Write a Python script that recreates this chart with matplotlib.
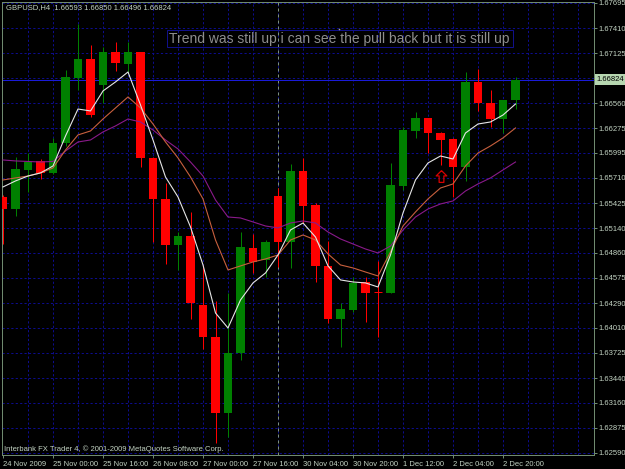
import matplotlib
matplotlib.use("Agg")
import matplotlib.pyplot as plt
from matplotlib.patches import Rectangle
from matplotlib.lines import Line2D
from matplotlib.path import Path
from matplotlib.transforms import blended_transform_factory

# ---------------- data ----------------
header_text = "GBPUSD,H4  1.66593 1.66850 1.66496 1.66824"
footer_text = "Interbank FX Trader 4, \u00a9 2001-2009 MetaQuotes Software Corp."
note_text = "Trend was still up i can see the pull back but it is still up"

opens = [1.65494, 1.65358, 1.65801, 1.65903, 1.65767, 1.66107, 1.66844, 1.67060,
         1.66765, 1.67139, 1.67003, 1.67139, 1.65937, 1.65472, 1.64950, 1.65052,
         1.64269, 1.63906, 1.63044, 1.63725, 1.64916, 1.64780, 1.65506, 1.64984,
         1.65789, 1.65404, 1.64712, 1.64110, 1.64212, 1.64530, 1.64417, 1.64405,
         1.65619, 1.66243, 1.66390, 1.66220, 1.66152, 1.65835, 1.66799, 1.66561,
         1.66379, 1.66593]
highs = [1.65517, 1.65948, 1.65993, 1.65925, 1.66164, 1.66935, 1.67457, 1.67219,
         1.67196, 1.67253, 1.67253, 1.67139, 1.65948, 1.65653, 1.65097, 1.65324,
         1.64723, 1.64315, 1.64405, 1.65097, 1.65075, 1.65006, 1.65596, 1.65869,
         1.65937, 1.65426, 1.64995, 1.64292, 1.64587, 1.64587, 1.64768, 1.65880,
         1.66288, 1.66459, 1.66390, 1.66232, 1.66164, 1.66912, 1.66946, 1.66708,
         1.66595, 1.66850]
lows = [1.64961, 1.65279, 1.65551, 1.65698, 1.65755, 1.66073, 1.66708, 1.66402,
        1.66561, 1.66924, 1.66912, 1.65835, 1.64984, 1.64734, 1.64666, 1.64110,
        1.63770, 1.62704, 1.62772, 1.63645, 1.64632, 1.64587, 1.64700, 1.64689,
        1.65199, 1.64530, 1.64065, 1.63793, 1.64190, 1.64076, 1.63906, 1.64405,
        1.65574, 1.66164, 1.65993, 1.65857, 1.65494, 1.65676, 1.66470, 1.66288,
        1.66220, 1.66496]
closes = [1.65358, 1.65812, 1.65891, 1.65767, 1.66107, 1.66856, 1.67060, 1.66424,
          1.67139, 1.67014, 1.67139, 1.65937, 1.65472, 1.64950, 1.65052, 1.64292,
          1.63906, 1.63044, 1.63725, 1.64927, 1.64757, 1.64984, 1.64984, 1.65789,
          1.65392, 1.64712, 1.64110, 1.64224, 1.64519, 1.64405, 1.64405, 1.65630,
          1.66254, 1.66390, 1.66220, 1.66141, 1.65835, 1.66799, 1.66561, 1.66379,
          1.66595, 1.66824]

ma_fast = [1.65608, 1.65676, 1.65732, 1.65767, 1.65846, 1.66186, 1.66492, 1.66470,
           1.66697, 1.66799, 1.66912, 1.66538, 1.66141, 1.65721, 1.65494, 1.65154,
           1.64723, 1.64178, 1.64008, 1.64326, 1.64519, 1.64632, 1.64836, 1.65120,
           1.65199, 1.65040, 1.64712, 1.64553, 1.64530, 1.64519, 1.64473, 1.64836,
           1.65313, 1.65687, 1.65880, 1.65959, 1.65925, 1.66220, 1.66322, 1.66345,
           1.66424, 1.66549]
ma_mid = [1.65687, 1.65710, 1.65732, 1.65767, 1.65823, 1.66027, 1.66198, 1.66243,
          1.66379, 1.66504, 1.66629, 1.66504, 1.66322, 1.66118, 1.65937, 1.65721,
          1.65472, 1.65006, 1.64666, 1.64712, 1.64757, 1.64791, 1.64836, 1.65006,
          1.65063, 1.65006, 1.64848, 1.64723, 1.64689, 1.64643, 1.64598, 1.64870,
          1.65165, 1.65324, 1.65472, 1.65596, 1.65642, 1.65846, 1.65993, 1.66073,
          1.66164, 1.66277]
ma_slow = [1.65914, 1.65903, 1.65897, 1.65891, 1.65897, 1.66016, 1.66118, 1.66141,
           1.66232, 1.66300, 1.66379, 1.66345, 1.66254, 1.66141, 1.66039, 1.65891,
           1.65732, 1.65460, 1.65267, 1.65256, 1.65211, 1.65165, 1.65143, 1.65199,
           1.65222, 1.65199, 1.65097, 1.65018, 1.64961, 1.64904, 1.64859, 1.64938,
           1.65120, 1.65267, 1.65358, 1.65415, 1.65449, 1.65562, 1.65642, 1.65710,
           1.65801, 1.65891]

x_tick_bars = [0, 4, 8, 12, 16, 20, 24, 28, 32, 36, 40]
x_tick_labels = ["24 Nov 2009", "25 Nov 00:00", "25 Nov 16:00", "26 Nov 08:00",
                 "27 Nov 00:00", "27 Nov 16:00", "30 Nov 04:00", "30 Nov 20:00",
                 "1 Dec 12:00", "2 Dec 04:00", "2 Dec 20:00"]
y_ticks = [1.62590, 1.62875, 1.63160, 1.63440, 1.63725, 1.64010, 1.64290, 1.64575,
           1.64860, 1.65140, 1.65425, 1.65710, 1.65995, 1.66275, 1.66560, 1.66840,
           1.67125, 1.67410, 1.67695]
y_tick_labels = ["1.62590", "1.62875", "1.63160", "1.63440", "1.63725", "1.64010",
                 "1.64290", "1.64575", "1.64860", "1.65140", "1.65425", "1.65710",
                 "1.65995", "1.66275", "1.66560", "", "1.67125", "1.67410", "1.67695"]
separator_bar = 22
arrow_bar = 35
arrow_price = 1.65732
current_price = 1.66824

# ---------------- style ----------------
BG = "#000000"
GRID = "#0c0c8c"
AXIS = "#6f8a6f"
TXT = "#c3d3c3"
BULL = "#008000"
BEAR = "#ff0000"
small_font = ["Liberation Sans", "DejaVu Sans"]
SMALL = 5.5

W, H = 625, 469
fig = plt.figure(figsize=(W / 100, H / 100), dpi=100, facecolor=BG)
L, R, T, B = 2, 593.5, 2, 455
ax = fig.add_axes([L / W, 1 - B / H, (R - L) / W, (B - T) / H])
ax.set_facecolor(BG)
ax.set_xlim(-0.08, 47.24)
ax.set_ylim(1.62567, 1.67706)

px = 0.72  # one pixel in points
dash = (0, (2.2, 2.2))

# grid
for yv in y_ticks:
    ax.axhline(yv, color=GRID, lw=px, ls=dash, zorder=0)
for xv in range(2, 48, 2):
    ax.axvline(xv, color=GRID, lw=px, ls=dash, zorder=0)
# period separator
ax.axvline(separator_bar, color="#7c907c", lw=px, ls=(0, (3, 3)), zorder=1)
# current price line
ax.axhline(current_price, color="#1a1ad8", lw=px, zorder=1)

# candles
bw = 0.68
for i, (o, h, l, c) in enumerate(zip(opens, highs, lows, closes)):
    col = BULL if c >= o else BEAR
    ax.vlines(i, l, h, color=col, lw=px, zorder=2)
    bottom = min(o, c)
    height = abs(c - o)
    if height < 0.00012:
        ax.hlines(o, i - bw / 2, i + bw / 2, color=col, lw=px, zorder=3)
    else:
        ax.add_patch(Rectangle((i - bw / 2, bottom), bw, height, facecolor=col,
                               edgecolor="none", zorder=3))

# moving averages
xs = list(range(len(ma_fast)))
ax.plot(xs, ma_slow, color="#8a1a8a", lw=0.8, zorder=4)
ax.plot(xs, ma_mid, color="#c8603e", lw=0.8, zorder=4)
ax.plot(xs, ma_fast, color="#e6e6e6", lw=0.8, zorder=5)

# arrow object (outlined up arrow)
arrow_path = Path([(0, 1), (0.9, 0.1), (0.4, 0.1), (0.4, -1), (-0.4, -1),
                   (-0.4, 0.1), (-0.9, 0.1), (0, 1)])
ax.plot([arrow_bar], [arrow_price], marker=arrow_path, ms=8.5, mfc="none",
        mec="#d80000", mew=0.9, ls="none", zorder=6)

# axes styling
for s in ax.spines.values():
    s.set_color(AXIS)
    s.set_linewidth(px)
ax.yaxis.tick_right()
ax.set_yticks(y_ticks)
ax.set_yticklabels(y_tick_labels)
ax.set_xticks(x_tick_bars)
ax.set_xticklabels(x_tick_labels)
ax.tick_params(axis="y", which="both", length=2.5, width=px, color=AXIS, pad=1.2,
               labelcolor=TXT, labelsize=SMALL)
ax.tick_params(axis="x", which="both", length=2.5, width=px, color=AXIS, pad=1.5,
               labelcolor=TXT, labelsize=SMALL)
for lab in ax.get_xticklabels() + ax.get_yticklabels():
    lab.set_family(small_font)
for lab in ax.get_xticklabels():
    lab.set_ha("left")

# current price tag
trans = blended_transform_factory(ax.transAxes, ax.transData)
ax.text(1.0 + 3.2 / (R - L), current_price, "1.66824", transform=trans, ha="left",
        va="center", fontsize=SMALL, family=small_font, color="#000000",
        bbox=dict(boxstyle="square,pad=0.25", fc="#b6d6b0", ec="none"),
        clip_on=False, zorder=10)

# header / footer
fig.text(6 / W, 1 - 7.5 / H, header_text, color=TXT, fontsize=SMALL,
         family=small_font, ha="left", va="center")
fig.text(4 / W, 1 - 449.5 / H, footer_text, color=TXT, fontsize=SMALL,
         family=small_font, ha="left", va="center")

# note text box
fig.patches.append(Rectangle((167 / W, 1 - 47 / H), (513 - 167) / W, 17 / H,
                             transform=fig.transFigure, fill=False,
                             edgecolor="#10108a", lw=px))
fig.text(169 / W, 1 - 38.5 / H, note_text, color="#8e8e8e", fontsize=10.0,
         family=["Liberation Sans", "DejaVu Sans"], ha="left", va="center")
fig.lines.append(Line2D([339 / W], [1 - 29 / H], transform=fig.transFigure,
                        marker="o", ms=1.2, color="#a0a0a0", mec="none"))

fig.savefig("out.png", dpi=100, facecolor=BG)
